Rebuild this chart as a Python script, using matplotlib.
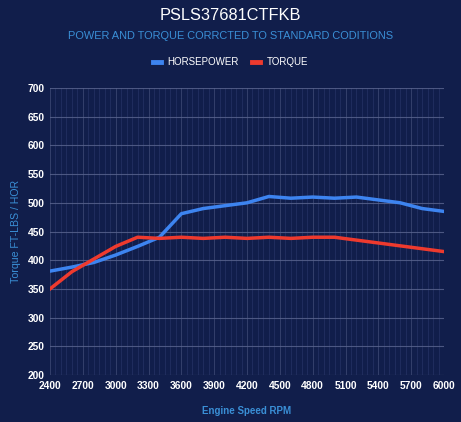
import matplotlib
matplotlib.use("Agg")
import matplotlib.pyplot as plt
from matplotlib.ticker import MultipleLocator

plt.rcParams["font.family"] = ["Liberation Sans", "DejaVu Sans"]

rpm = [2400, 2600, 2800, 3000, 3200, 3400, 3600, 3800, 4000, 4200,
       4400, 4600, 4800, 5000, 5200, 5400, 5600, 5800, 6000]
horsepower = [381, 388, 396, 409, 424, 440, 481, 490, 495, 500,
              511, 508, 510, 508, 510, 505, 500, 490, 485]
torque = [350, 380, 402, 424, 440, 438, 440, 438, 440, 438,
          440, 438, 440, 440, 435, 430, 425, 420, 415]
x_ticks = list(range(2400, 6001, 300))

bg = "#111e4b"
blue = "#3d84f0"
red = "#ee3a2e"
label_blue = "#3a8fd6"

fig = plt.figure(figsize=(4.61, 4.22), dpi=100, facecolor=bg)
ax = fig.add_axes([50 / 461, 47 / 422, 394 / 461, 287 / 422], facecolor=bg)

ax.plot(rpm, horsepower, color=blue, lw=2.5, label="HORSEPOWER", solid_joinstyle="round")
ax.plot(rpm, torque, color=red, lw=2.5, label="TORQUE", solid_joinstyle="round")

ax.set_xlim(2400, 6000)
ax.set_ylim(200, 700)
ax.set_xticks(x_ticks)
ax.xaxis.set_minor_locator(MultipleLocator(50))
ax.yaxis.set_major_locator(MultipleLocator(50))

ax.grid(True, which="major", axis="y", color="#5b6690", lw=0.8, alpha=0.8)
ax.grid(True, which="major", axis="x", color="#3c4874", lw=0.7, alpha=0.8)
ax.grid(True, which="minor", axis="x", color="#2a366a", lw=0.6, alpha=0.7)
ax.set_axisbelow(True)
for s in ax.spines.values():
    s.set_visible(False)

ax.tick_params(axis="both", which="both", length=0, colors="white", labelsize=7.4)
ax.tick_params(axis="x", pad=4)
ax.tick_params(axis="y", pad=4)
for lab in ax.get_xticklabels() + ax.get_yticklabels():
    lab.set_fontweight("bold")

ax.set_xlabel("Engine Speed RPM", color=label_blue, fontsize=7.0, fontweight="bold", labelpad=11)
ax.set_ylabel("Torque FT-LBS / HOR", color=label_blue, fontsize=7.6, labelpad=5)

fig.text(0.5, 1 - 16 / 422, "PSLS37681CTFKB", color="white", fontsize=11.8,
         ha="center", va="center")
fig.text(0.5, 1 - 36 / 422, "POWER AND TORQUE CORRCTED TO STANDARD CODITIONS",
         color=label_blue, fontsize=7.9, ha="center", va="center")

leg = fig.legend(loc="center", bbox_to_anchor=(0.5, 1 - 62 / 422), ncol=2,
                 frameon=False, fontsize=7, labelcolor="white",
                 handlelength=0.8, handletextpad=0.7, columnspacing=1.3)
for line in leg.get_lines():
    line.set_linewidth(3.5)

fig.savefig("out.png", dpi=100, facecolor=bg)
